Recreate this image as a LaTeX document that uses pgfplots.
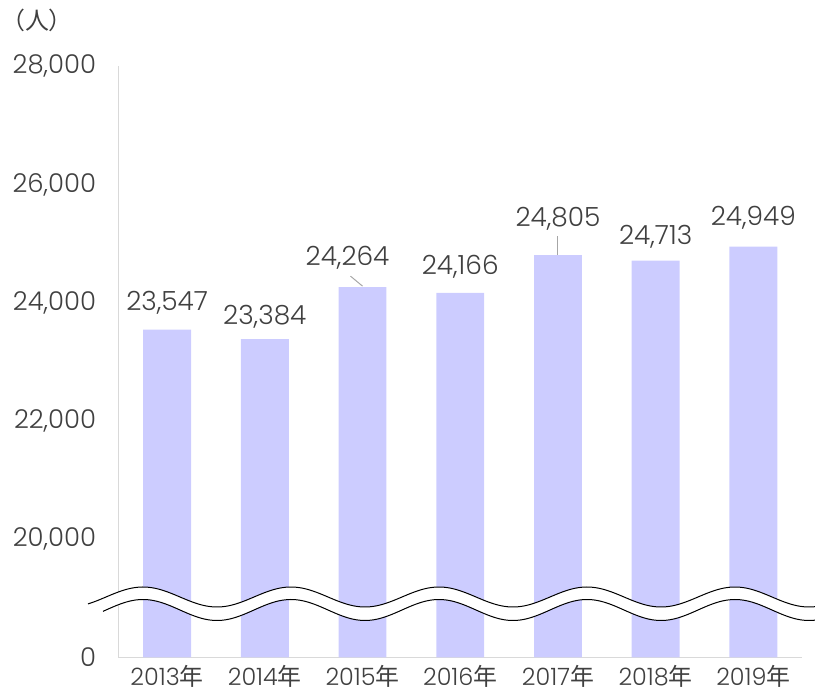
\documentclass[border=0pt]{standalone}
\usepackage{pgfplots}
\pgfplotsset{compat=1.18}
\usepackage{pgfplotstable}
\usepackage{fontspec}
\setmainfont{Poppins Light}
\newfontfamily\jp{Noto Sans CJK JP}
\definecolor{barcol}{HTML}{CCCCFF}
\definecolor{axcol}{HTML}{D9D9D9}
\definecolor{txt}{HTML}{404040}
\definecolor{lead}{HTML}{A6A6A6}
\pgfplotstableread{
x v
0 23547
1 23384
2 24264
3 24166
4 24805
5 24713
6 24949
}\data
\begin{document}
\begin{tikzpicture}[x=1bp,y=1bp]
\path[use as bounding box] (0,0) rectangle (815,694);
\begin{axis}[
  at={(121,31)}, anchor=south west,
  scale only axis, width=684bp, height=591bp,
  xmin=-0.5, xmax=6.5, ymin=0, ymax=5,
  axis x line*=bottom, axis y line*=left,
  axis line style={draw=axcol, line width=1.2bp, -},
  tick style={draw=none},
  xtick={0,...,6},
  xticklabels={2013{\jp 年},2014{\jp 年},2015{\jp 年},2016{\jp 年},2017{\jp 年},2018{\jp 年},2019{\jp 年}},
  ytick={0,1,2,3,4,5},
  yticklabels={{0},{20,000},{22,000},{24,000},{26,000},{28,000}},
  ticklabel style={text=txt},
  yticklabel style={inner sep=0pt, xshift=-22bp, font=\fontsize{26}{26}\selectfont},
  xticklabel style={inner sep=0pt, text depth=0pt, yshift=-8bp, font=\fontsize{24}{24}\selectfont},
  clip=false,
]
\addplot[ybar, bar width=0.49, fill=barcol, draw=none] table[x=x, y expr=(\thisrow{v}-18000)/2000] {\data};
\tikzset{lab/.style={anchor=base, text=txt, inner sep=0pt, font=\fontsize{26.5}{26.5}\selectfont}}
\node[lab, yshift=19.2bp] at (axis cs:0,2.7735) {23,547};
\node[lab, yshift=14.2bp] at (axis cs:1,2.692) {23,384};
\node[lab, yshift=21.2bp, xshift=-15bp] at (axis cs:2,3.132) {24,264};
\node[lab, yshift=18.7bp] at (axis cs:3,3.083) {24,166};
\node[lab, yshift=28.7bp] at (axis cs:4,3.4025) {24,805};
\node[lab, yshift=15.7bp] at (axis cs:5,3.3565) {24,713};
\node[lab, yshift=21.2bp] at (axis cs:6,3.4745) {24,949};
\draw[lead, line width=1bp] ([shift={(-12bp,11bp)}]axis cs:2,3.132) -- ([shift={(0bp,1bp)}]axis cs:2,3.132);
\draw[lead, line width=1bp] ([shift={(0bp,19bp)}]axis cs:4,3.4025) -- ([shift={(0bp,0bp)}]axis cs:4,3.4025);
\end{axis}
\fill[white] plot[domain=88:815, samples=240, smooth] (\x, {97+10*cos((\x-143)/148*360)}) -- plot[domain=815:88, samples=240, smooth] (\x, {84+10.5*cos((\x-143)/148*360)}) -- cycle;
\draw[black, line width=1bp] plot[domain=88:815, samples=240, smooth] (\x, {97+10*cos((\x-143)/148*360)});
\draw[black, line width=1bp] plot[domain=103:815, samples=240, smooth] (\x, {84+10.5*cos((\x-143)/148*360)});
\node[text=txt, font=\jp\fontsize{24}{24}\selectfont, inner sep=0pt] at (37,674) {（人）};
\end{tikzpicture}
\end{document}
